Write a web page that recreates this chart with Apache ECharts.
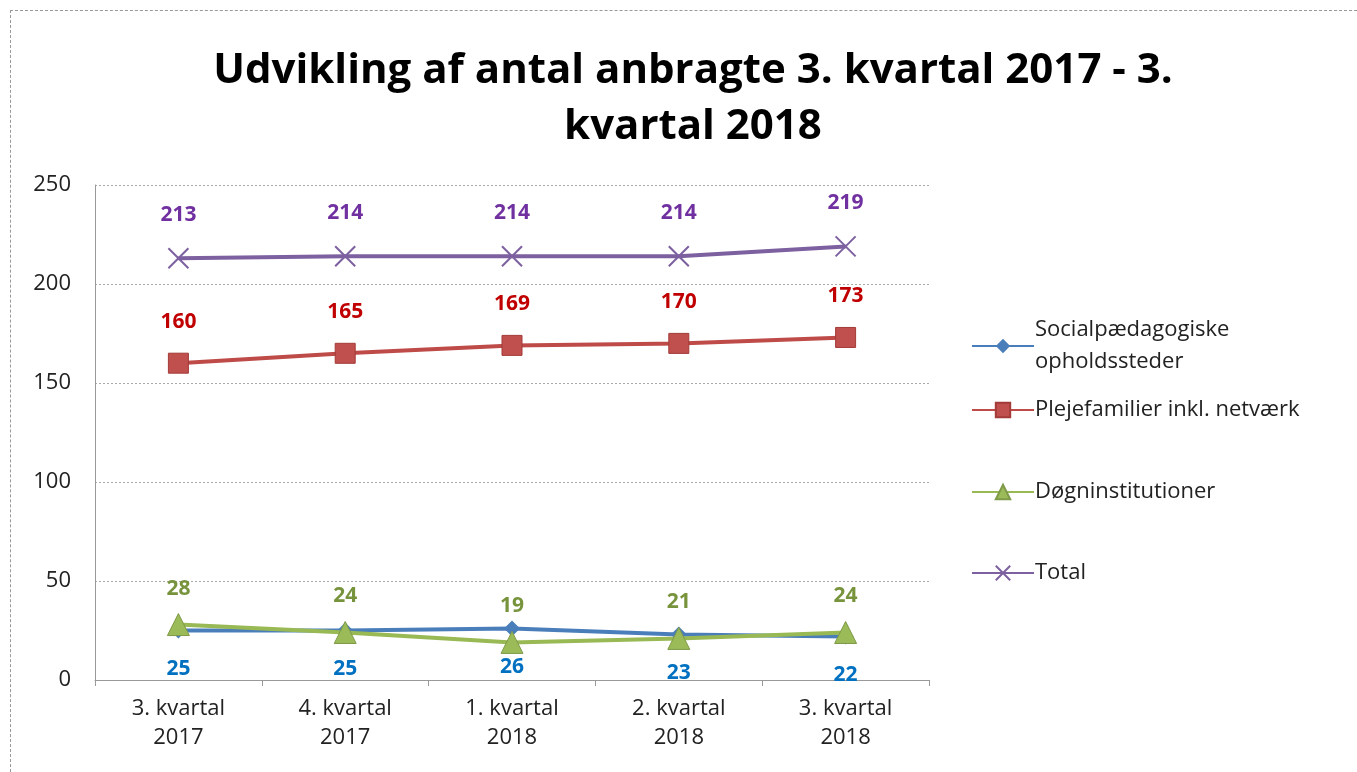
<!DOCTYPE html>
<html>
<head>
    <meta charset="utf-8">
    <title>Udvikling af antal anbragte</title>
    <script src="https://cdn.jsdelivr.net/npm/echarts@6/dist/echarts.min.js"></script>
    <style>
        html, body { margin: 0; padding: 0; background: #fff; }
        #frame { position: absolute; left: 10px; top: 10px; width: 1360px; height: 780px; border: 1px dashed #999; }
        #chart { width: 1357px; height: 772px; }
    </style>
</head>
<body>
<div id="frame"></div>
<div id="chart"></div>
<script type="text/javascript">

    // kvartaler
    var categories = ['3. kvartal\n2017', '4. kvartal\n2017', '1. kvartal\n2018', '2. kvartal\n2018', '3. kvartal\n2018'];
    var seriesNames = ['Socialpædagogiske\nopholdssteder', 'Plejefamilier inkl. netværk', 'Døgninstitutioner', 'Total'];
    var socialpaed = [25, 25, 26, 23, 22];
    var plejefamilier = [160, 165, 169, 170, 173];
    var doegninst = [28, 24, 19, 21, 24];
    var total = [213, 214, 214, 214, 219];
    var yTicks = [0, 50, 100, 150, 200, 250];

    var font = '"Open Sans", Lato, sans-serif';
    var xSymbol = 'path://M0,0L10,10M10,0L0,10';

    function lbl(color, pos, dist) {
        return { show: true, position: pos, distance: dist, color: color, fontSize: 21, fontWeight: 'bold', fontFamily: font };
    }

    function legendAt(name, top) {
        return {
            data: [name], left: 966, top: top, orient: 'vertical',
            itemWidth: 62, itemHeight: 18, itemGap: 0,
            textStyle: { fontSize: 22, color: '#222', fontFamily: font, lineHeight: 32, padding: [0, 0, 0, -4] }
        };
    }

    var myChart = echarts.init(document.getElementById('chart'));
    myChart.setOption({
        animation: false,
        title: {
            text: 'Udvikling af antal anbragte 3. kvartal 2017 - 3.\nkvartal 2018',
            left: 688, top: 38, textAlign: 'center',
            textStyle: { fontSize: 42, fontWeight: 'bold', color: '#000', fontFamily: font, lineHeight: 56 }
        },
        legend: [
            legendAt(seriesNames[0], 309),
            legendAt(seriesNames[1], 389),
            legendAt(seriesNames[2], 471),
            legendAt(seriesNames[3], 552)
        ],
        grid: { left: 95, right: 428, top: 185, bottom: 92 },
        xAxis: {
            type: 'category',
            data: categories,
            boundaryGap: true,
            axisLine: { lineStyle: { color: '#999' } },
            axisTick: { show: true, length: 6, lineStyle: { color: '#999' } },
            axisLabel: { color: '#222', fontSize: 22, fontFamily: font, lineHeight: 29, margin: 14 }
        },
        yAxis: {
            type: 'value',
            min: yTicks[0], max: yTicks[yTicks.length - 1], interval: 50,
            axisLine: { show: true, lineStyle: { color: '#999' } },
            axisTick: { show: false },
            splitLine: { lineStyle: { color: '#aaa', type: [2, 2] } },
            axisLabel: { color: '#222', fontSize: 22, fontFamily: font, margin: 24 }
        },
        series: [
            {
                name: seriesNames[0], type: 'line', data: socialpaed,
                symbol: 'diamond', symbolSize: 16,
                lineStyle: { color: '#4a7ebb', width: 4 },
                itemStyle: { color: '#4a7ebb' },
                label: lbl('#0070c0', 'bottom', 20), z: 3
            },
            {
                name: seriesNames[1], type: 'line', data: plejefamilier,
                symbol: 'rect', symbolSize: 20,
                lineStyle: { color: '#be4b48', width: 4 },
                itemStyle: { color: '#c0504d', borderColor: '#a33b38', borderWidth: 1 },
                label: lbl('#c00000', 'top', 20)
            },
            {
                name: seriesNames[2], type: 'line', data: doegninst,
                symbol: 'triangle', symbolSize: 22,
                lineStyle: { color: '#98b954', width: 4 },
                itemStyle: { color: '#9bbb59', borderColor: '#7f9a48', borderWidth: 1 },
                label: lbl('#77933c', 'top', 14), z: 4
            },
            {
                name: seriesNames[3], type: 'line', data: total,
                symbol: xSymbol, symbolSize: 20,
                lineStyle: { color: '#7d60a0', width: 4 },
                itemStyle: { color: 'none', borderColor: '#7d60a0', borderWidth: 2 },
                label: { show: true, position: 'top', distance: 20, color: '#7030a0', fontSize: 21, fontWeight: 'bold', fontFamily: font }
            }
        ]
    });

</script>
</body>
</html>
